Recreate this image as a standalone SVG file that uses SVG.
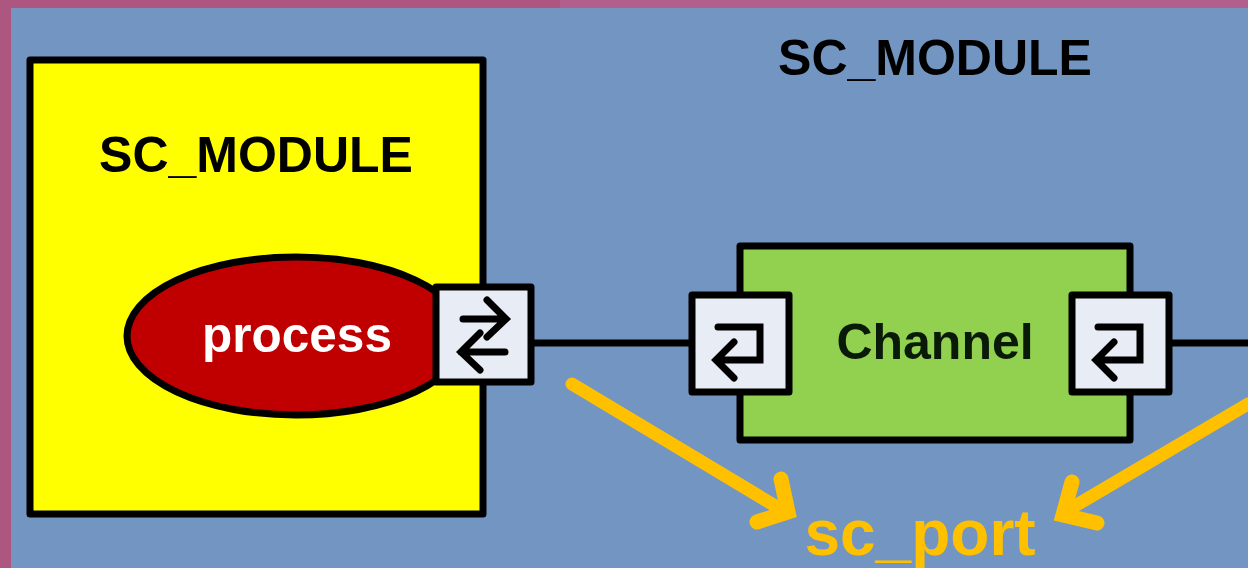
<svg xmlns="http://www.w3.org/2000/svg" width="1248" height="568" viewBox="0 0 1248 568">
<defs>
<style>
.lbl{font-family:"Liberation Sans",Arial,sans-serif;font-weight:bold;text-anchor:middle}
.box{stroke:#000;stroke-width:7;stroke-linejoin:round}
.port{fill:#e8ecf5;stroke:#000;stroke-width:7;stroke-linejoin:round}
.ico{fill:none;stroke:#000;stroke-width:7;stroke-linecap:round;stroke-linejoin:miter}
.wire{stroke:#000;stroke-width:7;fill:none}
.gold{fill:none;stroke:#ffc000;stroke-width:13;stroke-linecap:round;stroke-linejoin:miter}
.head{fill:none;stroke:#ffc000;stroke-width:15;stroke-linecap:round;stroke-linejoin:miter}
</style>
</defs>
<rect id="frame" width="1248" height="568" fill="#ad5680"/>
<rect x="560" y="0" width="688" height="8" fill="#b0608a"/>
<rect x="11" y="8" width="1237" height="560" fill="#7395c1"/>
<g id="connectors">
<line class="wire" x1="533" y1="343" x2="692" y2="343"/>
<line class="wire" x1="1170" y1="343" x2="1248" y2="343"/>
<path class="gold" d="M572 384L782 510"/>
<path class="head" d="M781 479L788 512L757 522"/>
<path class="gold" d="M1248 404L1068 510"/>
<path class="head" d="M1072 482L1063 515L1097 523"/>
</g>
<g id="module-left">
<rect class="box" x="30" y="60" width="453" height="454" fill="#ffff00"/>
<text class="lbl" x="256" y="172" font-size="50">SC_MODULE</text>
</g>
<g id="module-right">
<text class="lbl" x="935" y="75" font-size="50">SC_MODULE</text>
</g>
<g id="process">
<ellipse cx="296" cy="336" rx="169" ry="79" fill="#c00000" stroke="#000" stroke-width="7"/>
<text class="lbl" x="297" y="352" font-size="49.5" fill="#fff">process</text>
</g>
<g id="port-left">
<rect class="port" x="436" y="287" width="95" height="95"/>
<path class="ico" d="M463 319H505M487 300L506 319L487 337"/>
<path class="ico" d="M505 352H461M480 333L461 352L480 370"/>
</g>
<g id="channel">
<rect class="box" x="740" y="246" width="390" height="194" fill="#92d050"/>
<text class="lbl" x="935" y="359" font-size="50" fill="#0a1a08">Channel</text>
</g>
<g id="port-channel-left">
<rect class="port" x="692" y="295" width="97" height="97"/>
<path class="ico" d="M718 327H760V360H717M734 342L716 360L734 378"/>
</g>
<g id="port-channel-right">
<rect class="port" x="1072" y="295" width="97" height="97"/>
<path class="ico" d="M1098 327H1140V360H1097M1114 342L1096 360L1114 378"/>
</g>
<g id="sc-port">
<text class="lbl" x="920" y="555" font-size="64" fill="#ffc000">sc_port</text>
</g>
</svg>
